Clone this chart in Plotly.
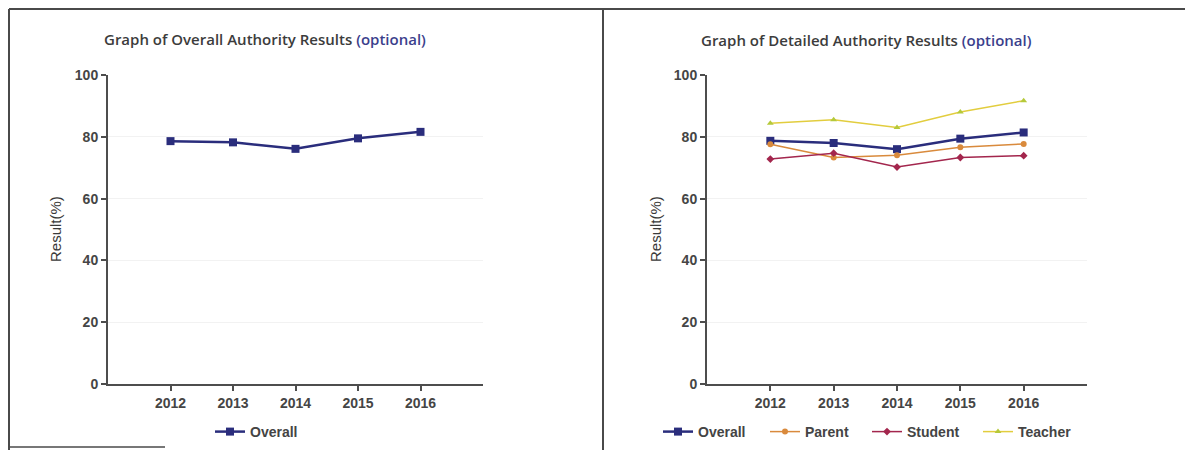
import plotly.graph_objects as go

years = [2012, 2013, 2014, 2015, 2016]
overall_left = [78.6, 78.2, 76.1, 79.5, 81.6]
overall = [78.7, 78.0, 76.0, 79.4, 81.4]
parent = [77.6, 73.3, 74.0, 76.6, 77.7]
student = [72.8, 74.7, 70.2, 73.3, 73.9]
teacher = [84.4, 85.5, 83.0, 88.0, 91.7]
y_ticks = [0, 20, 40, 60, 80, 100]

C_OVERALL = "#2a2d7c"
C_PARENT = "#d98a3c"
C_STUDENT = "#a3264d"
C_TEACHER = "#e2cd3e"

W, H = 1193, 450
OFF = 8  # page body margin


def px_x(p):
    return (p - OFF) / W


def px_y(p):
    return 1 - (p - OFF) / H


ydom = [px_y(384), px_y(75)]
FONT = "Liberation Sans, Arial, sans-serif"
lfont = dict(family=FONT, size=14, color="#444444", weight="bold")

fig = go.Figure()
fig.add_trace(go.Scatter(x=years, y=overall_left, name="Overall", mode="lines+markers",
                         line=dict(color=C_OVERALL, width=2.5),
                         marker=dict(symbol="square", size=8, color=C_OVERALL),
                         xaxis="x", yaxis="y", legend="legend"))

series = [("Overall", overall, C_OVERALL, "square", 8, 2.5, 663),
          ("Parent", parent, C_PARENT, "circle", 6, 1.5, 770),
          ("Student", student, C_STUDENT, "diamond", 6, 1.5, 872),
          ("Teacher", teacher, C_TEACHER, "triangle-up", 6, 1.5, 983)]
legend_layouts = {}
for i, (name, vals, col, sym, sz, lw, lx) in enumerate(series):
    mcol = "#b5c93a" if name == "Teacher" else col
    lg = "legend%d" % (i + 2)
    fig.add_trace(go.Scatter(x=years, y=vals, name=name, mode="lines+markers",
                             line=dict(color=col, width=lw),
                             marker=dict(symbol=sym, size=sz, color=mcol),
                             xaxis="x2", yaxis="y2", legend=lg))
    legend_layouts[lg] = dict(orientation="h", x=px_x(lx - 5), xanchor="left", y=px_y(432), yanchor="middle",
                              font=lfont, bgcolor="rgba(0,0,0,0)", itemwidth=30)

axis_common = dict(showline=True, linecolor="#4d4d4d", linewidth=2, ticks="outside", ticklen=5,
                   tickcolor="#4d4d4d", tickwidth=1.5, zeroline=False,
                   tickfont=dict(family=FONT, size=14, color="#454545", weight="bold"))
xcommon = dict(axis_common, range=[2011, 2017], tickvals=years, ticktext=[str(y) for y in years], showgrid=False)
ycommon = dict(axis_common, range=[0, 100], tickvals=y_ticks, showgrid=True, gridcolor="#f2f2f2", gridwidth=1)

fig.update_layout(
    width=W, height=H, margin=dict(l=0, r=0, t=0, b=0, autoexpand=False),
    paper_bgcolor="white", plot_bgcolor="white",
    xaxis=dict(xcommon, domain=[px_x(108), px_x(483)], anchor="y"),
    yaxis=dict(ycommon, domain=ydom, anchor="x"),
    xaxis2=dict(xcommon, domain=[px_x(707), px_x(1087)], anchor="y2"),
    yaxis2=dict(ycommon, domain=ydom, anchor="x2"),
    legend=dict(orientation="h", x=px_x(215 - 5), xanchor="left", y=px_y(432), yanchor="middle",
                font=lfont, bgcolor="rgba(0,0,0,0)", itemwidth=30),
    showlegend=True,
)
fig.update_layout(**legend_layouts)

title_font = dict(family="Open Sans, Lato, sans-serif", size=15, color="#3c3c3c", weight=600)
fig.add_annotation(text='Graph of Overall Authority Results <span style="color:#3b3f8c">(optional)</span>',
                   x=px_x(265), y=px_y(39), xref="paper", yref="paper", showarrow=False,
                   xanchor="center", yanchor="middle", font=title_font)
fig.add_annotation(text='Graph of Detailed Authority Results <span style="color:#3b3f8c">(optional)</span>',
                   x=px_x(866), y=px_y(40), xref="paper", yref="paper", showarrow=False,
                   xanchor="center", yanchor="middle", font=title_font)

ytitle_font = dict(family=FONT, size=15, color="#3a3a3a")
for cx in (56, 656):
    fig.add_annotation(text="Result(%)", textangle=-90, x=px_x(cx), y=px_y(229), xref="paper", yref="paper",
                       showarrow=False, xanchor="center", yanchor="middle", font=ytitle_font)

# panel frame lines (scan border); clamp to the figure's visible edge
frame = dict(color="#4a4a4a", width=2)
top = min(px_y(5), 1 - 1 / H)
left = max(px_x(5), 1 / W)
fig.add_shape(type="line", xref="paper", yref="paper", x0=left, x1=1, y0=top, y1=top, line=frame)
fig.add_shape(type="line", xref="paper", yref="paper", x0=left, x1=left, y0=top, y1=0, line=frame)
fig.add_shape(type="line", xref="paper", yref="paper", x0=px_x(603), x1=px_x(603), y0=top, y1=0, line=frame)
fig.add_shape(type="line", xref="paper", yref="paper", x0=left, x1=px_x(165), y0=px_y(447), y1=px_y(447),
              line=dict(color="#4a4a4a", width=1.5))

fig.write_html("out.html")
